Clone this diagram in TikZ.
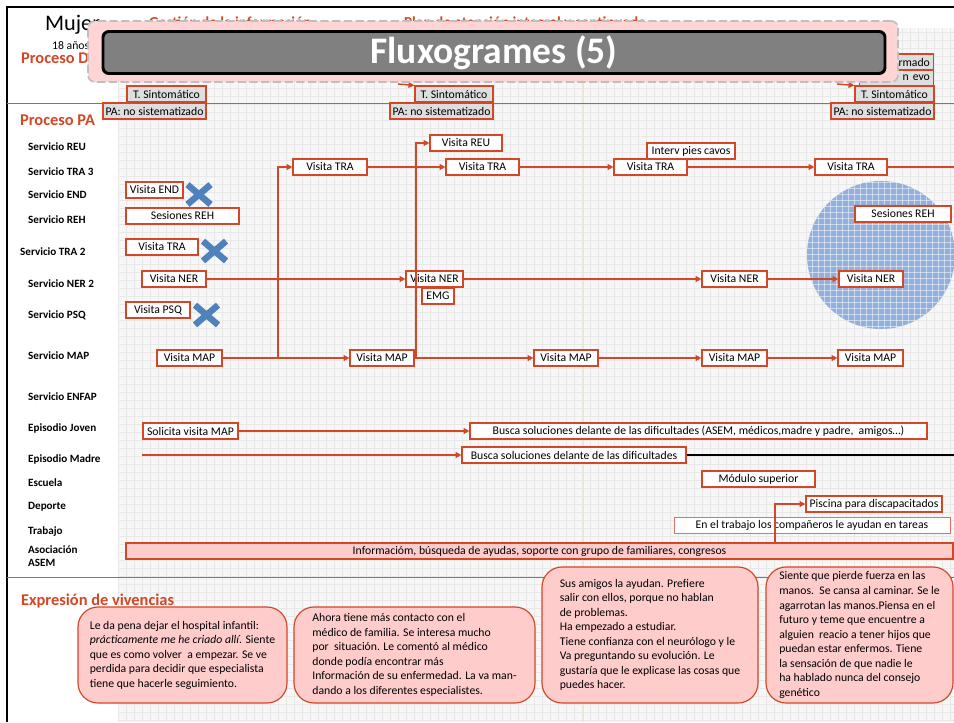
\documentclass[tikz,border=0pt]{standalone}
\usepackage{fontspec}
\setmainfont{Carlito}
\usetikzlibrary{arrows.meta,shapes.misc}
\definecolor{pared}{RGB}{210,71,38}
\definecolor{rosa}{RGB}{255,204,204}
\definecolor{blau}{RGB}{79,129,189}
\definecolor{cercle}{RGB}{146,176,220}
\definecolor{graella}{RGB}{232,232,232}
\definecolor{fons}{RGB}{247,247,247}
\definecolor{beix}{RGB}{236,230,214}

\begin{document}
\begin{tikzpicture}[x=0.03cm, y=-0.03cm, >={Triangle[length=5pt,width=5pt]},
    caixa/.style={draw=pared, fill=white, line width=1pt, minimum height=0.48cm, inner xsep=1pt, inner ysep=0pt, font=\fontsize{10}{11}\selectfont},
    gcaixa/.style={caixa, fill=black!13},
    fletxa/.style={draw=pared, line width=1.2pt},
    servei/.style={anchor=west, font=\fontsize{9.5}{10.5}\selectfont\bfseries},
    titol/.style={anchor=base west, text=pared, font=\fontsize{14}{16}\selectfont\bfseries},
    creu/.style={cross out, draw=blau, line width=5.5pt, minimum width=0.5cm, minimum height=0.4cm, inner sep=0pt},
    vivencia/.style={draw=pared, fill=rosa, line width=1pt, rounded corners=0.6cm, inner sep=0pt, align=left, font=\fontsize{10}{12.4}\selectfont}]
    \useasboundingbox (0,0) rectangle (954,722);

    % fons quadriculat
    \fill[fons] (118,28) rectangle (954,722);
    \foreach \gx in {118,126,...,950} \draw[graella, line width=0.3pt] (\gx,28) -- (\gx,722);
    \foreach \gy in {32,40,...,720} \draw[graella, line width=0.3pt] (118,\gy) -- (954,\gy);
    \draw[beix, line width=1pt] (583,28) -- (583,722);

    % marc i separadors
    \draw[line width=1.7pt] (7,722) -- (7,7) -- (954,7);
    \draw[blau, line width=0.8pt] (7,103) -- (954,103);
    \draw[blau, line width=0.8pt] (7,577) -- (954,577);

    % cercle REH
    \begin{scope}
        \clip (881,255) circle[radius=2.22cm];
        \fill[cercle] (800,175) rectangle (960,335);
        \foreach \cx in {806,812,...,955} \draw[white, opacity=0.5, line width=0.4pt] (\cx,175) -- (\cx,335);
        \foreach \cy in {182,188,...,330} \draw[white, opacity=0.5, line width=0.4pt] (800,\cy) -- (960,\cy);
    \end{scope}

    % capcalera
    \node[anchor=base west, font=\fontsize{19}{20}\selectfont] (dona) at (41,30) {Mujer};
    \node[anchor=base west, font=\fontsize{10}{11}\selectfont] (edat) at (48,49) {18 años};
    \node[titol] (procD) at (17,63) {Proceso D};
    \node[anchor=base west, text=pared, font=\fontsize{13}{14}\selectfont\bfseries] (gestio) at (145,27) {Gestión de la información};
    \node[anchor=base west, text=pared, font=\fontsize{13}{14}\selectfont\bfseries] (pla) at (400,27) {Plan de atención integral y continuada};

    \node[gcaixa, anchor=east, text width=2.0cm, align=right, inner xsep=3pt] (confirmat) at (934,62) {rmado};
    \node[gcaixa, anchor=east, text width=2.0cm, align=right, inner xsep=3pt] (evolucio) at (934,78) {n evo};
    \node[gcaixa, minimum width=2.37cm] (ts1) at (166.5,94) {T. Sintomático};
    \node[gcaixa, minimum width=2.34cm] (ts2) at (454,94) {T. Sintomático};
    \node[gcaixa, minimum width=2.37cm] (ts3) at (894.5,94) {T. Sintomático};
    \node[gcaixa, minimum width=3.09cm] (pa1) at (154.5,111) {PA: no sistematizado};
    \node[gcaixa, minimum width=3.09cm] (pa2) at (441.5,111) {PA: no sistematizado};
    \node[gcaixa, minimum width=3.09cm] (pa3) at (882.5,111) {PA: no sistematizado};
    \coordinate (a1) at (398,84);
    \coordinate (a2) at (837,84);
    \draw[fletxa,->] (a1) -- (ts2.north west);
    \draw[fletxa,->] (a2) -- (ts3.north west);

    % carrils
    \node[titol] (procPA) at (16,125) {Proceso PA};
    \node[servei] (sREU) at (24,147) {Servicio REU};
    \node[servei] (sTRA3) at (24,172) {Servicio TRA 3};
    \node[servei] (sEND) at (24,195) {Servicio END};
    \node[servei] (sREH) at (24,220) {Servicio REH};
    \node[servei] (sTRA2) at (16,252) {Servicio TRA 2};
    \node[servei] (sNER2) at (24,284) {Servicio NER 2};
    \node[servei] (sPSQ) at (24,315) {Servicio PSQ};
    \node[servei] (sMAP) at (24,356) {Servicio MAP};
    \node[servei] (sENFAP) at (24,397) {Servicio ENFAP};
    \node[servei] (eJove) at (24,428) {Episodio Joven};
    \node[servei] (eMare) at (24,459) {Episodio Madre};
    \node[servei] (escola) at (24,483) {Escuela};
    \node[servei] (esport) at (24,507) {Deporte};
    \node[servei] (treb) at (24,532) {Trabajo};
    \node[servei, align=left] (assoc) at (24,556) {Asociación\\ASEM};

    % visites
    \node[caixa, minimum width=2.16cm] (reu) at (466,143) {Visita REU};
    \node[caixa, minimum width=2.64cm] (pies) at (691,151) {Interv pies cavos};
    \node[caixa, minimum width=2.22cm] (tra1) at (330,167) {Visita TRA};
    \node[caixa, minimum width=2.19cm] (tra2) at (482.5,167) {Visita TRA};
    \node[caixa, minimum width=2.19cm] (tra3) at (650.5,167) {Visita TRA};
    \node[caixa, minimum width=2.16cm] (tra4) at (851,167) {Visita TRA};
    \node[caixa, minimum width=1.71cm] (end) at (154.5,190) {Visita END};
    \node[creu] (xEND) at (199,194.5) {};
    \node[caixa, minimum width=3.39cm] (reh1) at (182.5,216) {Sesiones REH};
    \node[caixa, minimum width=2.88cm] (reh2) at (903,214) {Sesiones REH};
    \node[caixa, minimum width=2.16cm] (tra0) at (162,247) {Visita TRA};
    \node[creu] (xTRA) at (214.5,251) {};
    \node[caixa, minimum width=1.92cm] (ner1) at (174,279) {Visita NER};
    \node[caixa, minimum width=1.71cm] (ner2) at (434.5,279) {Visita NER};
    \node[caixa, minimum width=0.96cm] (emg) at (438,296) {EMG};
    \node[caixa, minimum width=1.95cm] (ner3) at (734.5,279) {Visita NER};
    \node[caixa, minimum width=1.92cm] (ner4) at (871,279) {Visita NER};
    \node[caixa, minimum width=1.92cm] (psq) at (158,310) {Visita PSQ};
    \node[creu] (xPSQ) at (206.5,315) {};
    \node[caixa, minimum width=1.95cm] (map1) at (189.5,358) {Visita MAP};
    \node[caixa, minimum width=1.92cm] (map2) at (382,358) {Visita MAP};
    \node[caixa, minimum width=1.92cm] (map3) at (566,358) {Visita MAP};
    \node[caixa, minimum width=1.95cm] (map4) at (734.5,358) {Visita MAP};
    \node[caixa, minimum width=1.95cm] (map5) at (870.5,358) {Visita MAP};

    % episodis
    \node[caixa, minimum width=2.85cm] (sol) at (190.5,431) {Solicita visita MAP};
    \node[caixa, minimum width=13.71cm] (busca1) at (698.5,431) {Busca soluciones delante de las dificultades (ASEM, médicos,madre y padre,\ \ amigos…)};
    \node[caixa, minimum width=6.72cm] (busca2) at (574,455) {Busca soluciones delante de las dificultades};
    \node[caixa, minimum width=3.39cm] (modul) at (758.5,479) {Módulo superior};
    \node[caixa, minimum width=4.08cm] (pisc) at (874,504) {Piscina para discapacitados};
    \node[caixa, draw=pared!75, line width=0.8pt, minimum width=8.28cm] (feina) at (812,525) {En el trabajo los compañeros le ayudan en tareas};
    \node[caixa, fill=rosa, minimum width=24.81cm] (asem) at (539.5,551) {Informacióm, búsqueda de ayudas, soporte con grupo de familiares, congresos};

    % connexions
    \coordinate (b1) at (278,358);
    \coordinate (b2) at (416,358);
    \coordinate (tfi) at (954,167);
    \coordinate (mare) at (142,455);
    \coordinate (mfi) at (954,455);
    \coordinate (pis) at (775,543);
    \draw[fletxa,->] (map1) -- (map2);
    \draw[fletxa,->] (map1.east) -- (b1) |- (tra1.west);
    \draw[fletxa,->] (map2) -- (map3);
    \draw[fletxa,->] (map2.east) -- (b2) |- (reu.west);
    \draw[fletxa,->] (map3) -- (map4);
    \draw[fletxa,->] (map4) -- (map5);
    \draw[fletxa,->] (tra1) -- (tra2);
    \draw[fletxa,->] (tra2) -- (tra3);
    \draw[fletxa,->] (tra3) -- (tra4);
    \draw[fletxa] (tra4) -- (tfi);
    \draw[fletxa,->] (ner1) -- (ner2);
    \draw[fletxa,->] (ner2) -- (ner3);
    \draw[fletxa,->] (ner3) -- (ner4);
    \draw[fletxa,->] (sol) -- (busca1);
    \draw[fletxa,->] (mare) -- (busca2);
    \draw[line width=1.2pt] (busca2) -- (mfi);
    \draw[fletxa,->] (pis) |- (pisc.west);

    % vivencies
    \node[titol] (vivencies) at (17,605) {Expresión de vivencias};
    \node[vivencia, minimum width=6.27cm, minimum height=2.88cm] (viv1) at (182.5,655) {Le da pena dejar el hospital infantil:\\ \textit{prácticamente me he criado allí}. Siente\\ que es como volver\ \ a empezar. Se ve\\ perdida para decidir que especialista\\ tiene que hacerle seguimiento.};
    \node[vivencia, minimum width=7.23cm, minimum height=2.88cm] (viv2) at (414.5,655) {Ahora tiene más contacto con el\\ médico de familia. Se interesa mucho\\ por\ \ situación. Le comentó al médico\\ donde podía encontrar más\\ Información de su enfermedad. La va man-\\ dando a los diferentes especialistes.};
    \node[vivencia, minimum width=6.48cm, minimum height=4.08cm] (viv3) at (650,635) {Sus amigos la ayudan. Prefiere\\ salir con ellos, porque no hablan\\ de problemas.\\ Ha empezado a estudiar.\\ Tiene confianza con el neurólogo y le\\ Va preguntando su evolución. Le\\ gustaría que le explicase las cosas que\\ puedes hacer.};
    \node[vivencia, minimum width=5.61cm, minimum height=4.08cm] (viv4) at (859.5,635) {Siente que pierde fuerza en las\\ manos.\ \ Se cansa al caminar. Se le\\ agarrotan las manos.Piensa en el\\ futuro y teme que encuentre a\\ alguien\ \ reacio a tener hijos que\\ puedan estar enfermos. Tiene\\ la sensación de que nadie le\\ ha hablado nunca del consejo\\ genético};

    % titol
    \node[draw=black!25, dash pattern=on 7pt off 3pt, line width=1.5pt, fill=rosa!85, rounded corners=6pt, minimum width=24.3cm, minimum height=1.83cm] (banner) at (493,51.5) {};
    \node[draw=black, fill=black!50, line width=2.5pt, rounded corners=5pt, minimum width=23.46cm, minimum height=1.23cm, text=white, font=\fontsize{32}{34}\selectfont\bfseries] (flux) at (494,52.5) {Fluxogrames (5)};
\end{tikzpicture}
\end{document}
